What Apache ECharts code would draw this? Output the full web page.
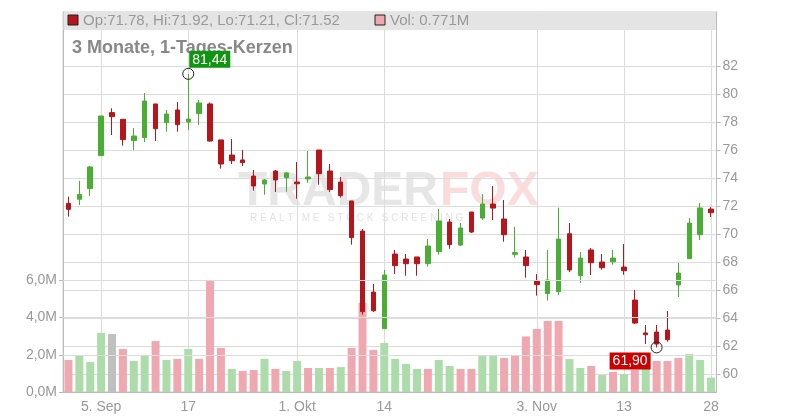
<!DOCTYPE html>
<html><head><meta charset="utf-8">
<script src="https://cdn.jsdelivr.net/npm/echarts@6/dist/echarts.min.js"></script>
<style>html,body{margin:0;padding:0;background:#fff}#c{width:800px;height:420px}</style>
</head><body><div id="c"></div>
<script>
// OHLC per candle: open, high, low, close
const opens  = [72.19,72.48,73.24,75.60,78.67,78.19,76.67,76.88,79.29,77.95,78.86,78.00,78.60,79.29,76.72,75.64,75.29,74.14,73.57,74.50,
                74.02,73.71,73.93,76.00,74.50,73.71,72.36,70.21,65.85,63.24,68.57,68.21,68.36,67.88,68.74,70.86,69.21,71.57,71.14,72.14,
                71.07,68.55,68.36,66.64,65.74,65.88,70.02,67.02,68.86,68.00,68.02,67.64,65.28,62.93,63.00,63.14,66.36,68.24,69.95,71.78];
const highs  = [72.67,73.79,74.86,78.43,78.98,78.19,77.57,80.07,79.29,78.86,79.43,81.44,79.57,79.40,76.72,76.79,76.00,74.57,73.93,74.57,
                74.43,75.14,75.93,76.00,75.00,74.07,72.36,70.36,66.43,67.43,68.86,68.57,68.36,69.64,71.79,71.07,70.79,71.57,72.85,73.43,
                72.43,70.52,68.86,67.14,68.86,71.88,70.78,68.71,69.00,68.57,68.86,69.28,66.00,63.50,63.50,64.50,67.93,71.14,72.21,71.92];
const lows   = [71.24,72.07,72.71,75.60,77.07,76.31,76.00,76.57,76.64,77.31,77.31,77.43,77.79,76.60,74.67,75.00,74.86,73.10,72.81,73.00,
                73.02,72.52,73.66,73.52,73.00,72.60,69.24,64.24,64.43,63.24,67.14,67.02,67.02,67.67,68.52,68.95,69.14,70.07,71.00,71.00,
                69.45,68.31,66.88,65.60,65.24,65.64,67.28,66.50,67.07,67.45,67.81,67.09,63.57,62.14,61.90,62.31,65.50,68.24,69.57,71.21];
const closes = [71.76,72.83,74.79,78.43,78.38,76.74,77.00,79.50,77.52,78.57,77.81,78.21,79.36,76.64,75.00,75.24,75.10,73.43,73.86,73.86,
                74.36,73.59,74.07,74.31,73.17,72.74,69.74,64.45,64.52,67.07,67.74,67.88,67.88,69.14,70.93,69.24,70.43,70.14,72.14,71.85,
                69.95,68.67,67.74,66.38,66.71,69.64,67.43,68.28,67.95,67.59,68.28,67.38,63.64,62.81,62.14,62.45,67.21,70.78,71.86,71.52];
// volume in millions, and direction (u=up, d=down, n=unchanged)
const volumes = [1.72,1.94,1.61,3.18,3.12,2.31,1.67,2.00,2.74,1.72,1.78,2.31,1.78,6.02,2.37,1.24,1.13,1.18,1.78,1.24,
                 1.13,1.67,1.29,1.29,1.29,1.34,2.37,4.80,2.26,2.63,1.78,1.51,1.24,1.24,1.72,1.40,1.24,1.24,1.99,1.99,
                 1.83,1.99,2.99,3.39,3.82,3.82,1.77,1.29,1.40,0.91,1.08,0.97,1.20,1.30,1.67,1.67,1.83,2.04,1.72,0.771];
const volDir = 'duuunduududud' + 'dduddudu' + 'udududdduuuuduudduudd' + 'dddduududududdduuuud';
const tickIdx = [3,11,21,29,43,51,59];
const tickLabels = ['5. Sep','17','1. Okt','14','3. Nov','13','28'];
const priceTicks = [60,62,64,66,68,70,72,74,76,78,80,82];
const volTicks = [0,2,4,6];

const cats = opens.map((_, i) => String(i));
const candle = opens.map((o, i) => [o, closes[i], lows[i], highs[i]]);
const volColors = {u:'#acdcaa', d:'#f0a8b0', n:'#c0c0c0'};
const volData = volumes.map((v, i) => ({value: v, itemStyle: {color: volColors[volDir[i]] || '#acdcaa'}}));
const gridLineStyle = {color:'#dcdcdc', type:'solid', width:1};
const fmtM = v => v.toFixed(1).replace('.', ',') + 'M';

const chart = echarts.init(document.getElementById('c'), null, {renderer:'canvas'});
chart.setOption({
  animation:false,
  grid:{left:63, right:83.5, top:12, bottom:28, show:true, borderColor:'#cccccc', borderWidth:1},
  xAxis:{type:'category', data:cats, boundaryGap:true,
    axisLine:{lineStyle:{color:'#bbbbbb'}},
    axisTick:{alignWithLabel:true, interval:(i)=>tickIdx.includes(i), lineStyle:{color:'#bbbbbb'}},
    axisLabel:{interval:(i)=>tickIdx.includes(i), formatter:(v)=>{const k=tickIdx.indexOf(+v);return k>=0?tickLabels[k]:'';},
      color:'#999', fontSize:14, fontFamily:'Liberation Sans, Arial', margin:8},
    splitLine:{show:false}},
  yAxis:[
    {type:'value', position:'right', min:60-18/14, max:60+362/14, splitLine:{show:false},
     axisLine:{show:true, lineStyle:{color:'#bbbbbb'}},
     axisTick:{show:true, customValues:priceTicks, length:4, lineStyle:{color:'#bbbbbb'}},
     axisLabel:{customValues:priceTicks, color:'#999', fontSize:14, fontFamily:'Liberation Sans, Arial', margin:6}},
    {type:'value', position:'left', min:0, max:380/18.6, splitLine:{show:false},
     axisLine:{show:true, lineStyle:{color:'#bbbbbb'}},
     axisTick:{show:true, customValues:volTicks, length:4, lineStyle:{color:'#bbbbbb'}},
     axisLabel:{customValues:volTicks, formatter:fmtM, color:'#999', fontSize:14, fontFamily:'Liberation Sans, Arial', margin:6}}
  ],
  series:[
    {type:'bar', yAxisIndex:1, data:volData, barWidth:8, z:1,
     markLine:{silent:true, symbol:'none', label:{show:false}, lineStyle:gridLineStyle,
       data:volTicks.slice(1).map(v=>({yAxis:v}))}},
    {type:'candlestick', yAxisIndex:0, data:candle, barWidth:5, z:3,
     itemStyle:{color:'#4aae34', color0:'#b5161b', borderColor:'#4aae34', borderColor0:'#b5161b', borderWidth:1},
     markLine:{silent:true, symbol:'none', label:{show:false}, lineStyle:gridLineStyle, z:0,
       data:priceTicks.map(v=>({yAxis:v})).concat(tickIdx.map(i=>({xAxis:String(i)})))},
     markPoint:{symbol:'circle', symbolSize:11, z:20,
       itemStyle:{color:'rgba(0,0,0,0)', borderColor:'#222', borderWidth:1},
       data:[
         {coord:['11', highs[11]], label:{show:true, formatter:highs[11].toFixed(2).replace('.', ','), position:[7,-17],
           backgroundColor:'#119411', color:'#fff', fontSize:14, padding:[2,3,1,3], fontFamily:'Liberation Sans, Arial'}},
         {coord:['54', lows[54]], label:{show:true, formatter:lows[54].toFixed(2).replace('.', ','), position:[-41,11],
           backgroundColor:'#cc0000', color:'#fff', fontSize:14, padding:[2,3,1,3], fontFamily:'Liberation Sans, Arial'}}
       ]}}
  ],
  graphic:[
    {type:'text', left:238, top:168, z:0, silent:true, style:{text:'TRADER', fill:'#e6e6e6', font:'bold 48px Liberation Sans'}},
    {type:'text', left:440, top:168, z:0, silent:true, style:{text:'FOX', fill:'#fbdcdc', font:'bold 48px Liberation Sans'}},
    {type:'text', left:250, top:213, z:0, silent:true, style:{text:'R E A L T I M E   S T O C K   S C R E E N I N G', fill:'#e2e2e2', font:'10px Liberation Sans'}},
    {type:'rect', shape:{x:63.5, y:12.5, width:652.5, height:17.5}, style:{fill:'#e4e4e4'}, z:5, silent:true},
    {type:'rect', shape:{x:68, y:15, width:10, height:10}, style:{fill:'#b5161b', stroke:'#222', lineWidth:1}, z:6},
    {type:'text', x:83, y:13, z:6, style:{text:'Op:'+opens[59]+', Hi:'+highs[59]+', Lo:'+lows[59]+', Cl:'+closes[59], fill:'#999', font:'15px Liberation Sans'}},
    {type:'rect', shape:{x:375, y:15, width:10, height:10}, style:{fill:'#f0a8b0', stroke:'#222', lineWidth:1}, z:6},
    {type:'text', x:390, y:13, z:6, style:{text:'Vol: '+volumes[59]+'M', fill:'#999', font:'15px Liberation Sans'}},
    {type:'text', x:72, y:39, z:1, style:{text:'3 Monate, 1-Tages-Kerzen', fill:'#888', font:'bold 18px Liberation Sans'}}
  ]
});
</script></body></html>
